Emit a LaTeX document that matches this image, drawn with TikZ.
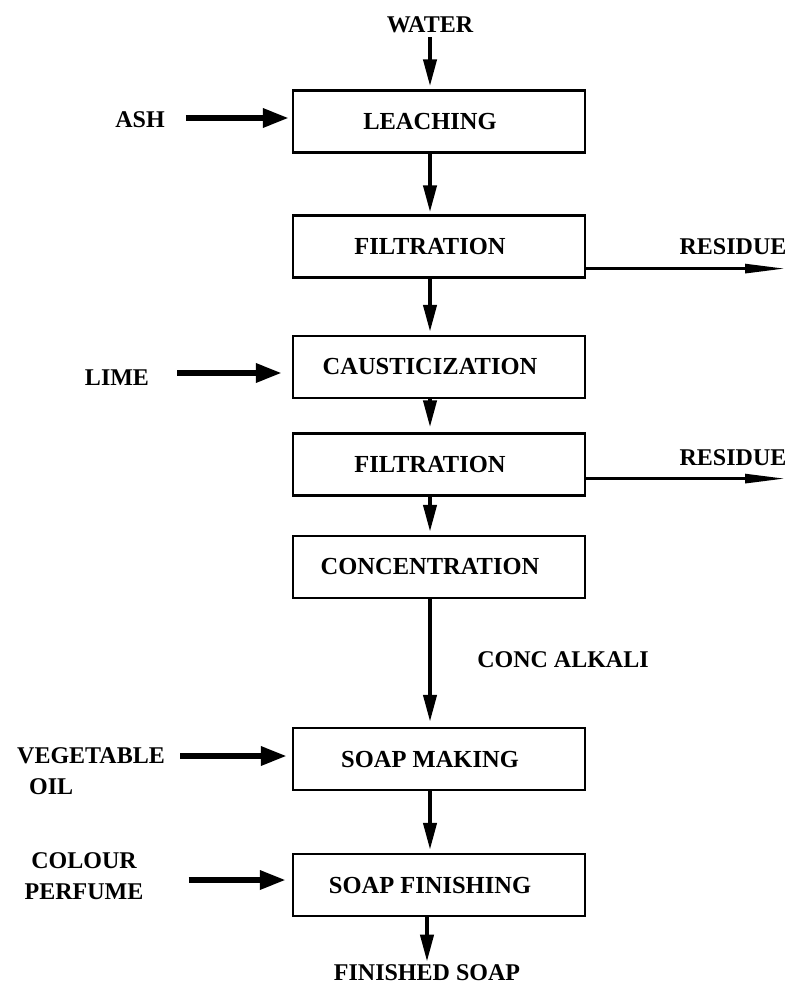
\documentclass[tikz,border=0pt]{standalone}
\usepackage{fontspec}
\setmainfont{Liberation Serif}
\usetikzlibrary{arrows.meta}
\def\padr{\hspace*{18pt}}
\tikzset{
  stage/.style={draw, line width=2.2pt, minimum width=292pt, minimum height=62pt,
    inner sep=0pt, font=\fontsize{24.5}{26}\selectfont\bfseries},
  lbl/.style={inner sep=0pt, font=\fontsize{24}{31}\selectfont\bfseries},
  flow/.style={line width=4pt, -{Triangle[length=27pt,width=13pt]}},
  feed/.style={line width=6pt, -{Triangle[length=26pt,width=18pt]}},
  waste/.style={line width=2.8pt, -{Triangle[length=40pt,width=9pt]}},
}

\begin{document}
\begin{tikzpicture}[x=1pt, y=-1pt]
    %%%%% START %%%%%
    \useasboundingbox (0,0) rectangle (786,987);
    \coordinate (axis) at (430,0);
    \coordinate (rim) at (785,0);

    % stages
    \node[stage] (leach) at (439,121.5) {LEACHING\padr};
    \node[stage] (filt1) at (439,246.5) {FILTRATION\padr};
    \node[stage] (caus)  at (439,367)   {CAUSTICIZATION\padr};
    \node[stage] (filt2) at (439,464.5) {FILTRATION\padr};
    \node[stage] (conc)  at (439,567)   {CONCENTRATION\padr};
    \node[stage] (make)  at (439,759)   {SOAP MAKING\padr};
    \node[stage] (fin)   at (439,885)   {SOAP FINISHING\padr};

    % streams
    \node[lbl] (water) at (430,25)  {WATER};
    \node[lbl] (ash)   at (140,120) {ASH};
    \node[lbl] (lime)  at (117,378) {LIME};
    \node[lbl] (res1)  at (733,247) {RESIDUE};
    \node[lbl] (res2)  at (733,458) {RESIDUE};
    \node[lbl] (alk)   at (563,660) {CONC ALKALI};
    \node[lbl, align=left]   (veg) at (91,771.5) {VEGETABLE\\\hspace*{12pt}OIL};
    \node[lbl, align=center] (col) at (84,876.5) {COLOUR\\PERFUME};
    \node[lbl] (fsoap) at (427,973) {FINISHED SOAP};

    % main line
    \draw[flow, shorten <=4pt, shorten >=3pt] (water.south) -- (leach.north -| water);
    \draw[flow, shorten >=2pt] (leach.south -| axis) -- (filt1.north -| axis);
    \draw[flow, shorten >=3pt] (filt1.south -| axis) -- (caus.north -| axis);
    \draw[flow, shorten >=5pt] (caus.south -| axis) -- (filt2.north -| axis);
    \draw[flow, shorten >=3pt] (filt2.south -| axis) -- (conc.north -| axis);
    \draw[flow, shorten >=5pt] (conc.south -| axis) -- (make.north -| axis);
    \draw[flow, shorten >=3pt] (make.south -| axis) -- (fin.north -| axis);
    \draw[flow, shorten >=3pt] (fin.south -| fsoap) -- (fsoap.north);

    % inputs
    \draw[feed, shorten <=21pt, shorten >=3pt] ([yshift=2pt]ash.east) -- ([yshift=2pt]ash.east -| leach.west);
    \draw[feed, shorten <=28pt, shorten >=10pt] ([yshift=5pt]lime.east) -- ([yshift=5pt]lime.east -| caus.west);
    \draw[feed, shorten <=15pt, shorten >=5pt] ([yshift=3pt]make.west -| veg.east) -- ([yshift=3pt]make.west);
    \draw[feed, shorten <=45pt, shorten >=6pt] ([yshift=5pt]fin.west -| col.east) -- ([yshift=5pt]fin.west);

    % residues
    \draw[waste] ([yshift=10pt]filt1.south east) -- ([yshift=10pt]filt1.south east -| rim);
    \draw[waste] ([yshift=18pt]filt2.south east) -- ([yshift=18pt]filt2.south east -| rim);
    %%%%% END %%%%%
\end{tikzpicture}
\end{document}
